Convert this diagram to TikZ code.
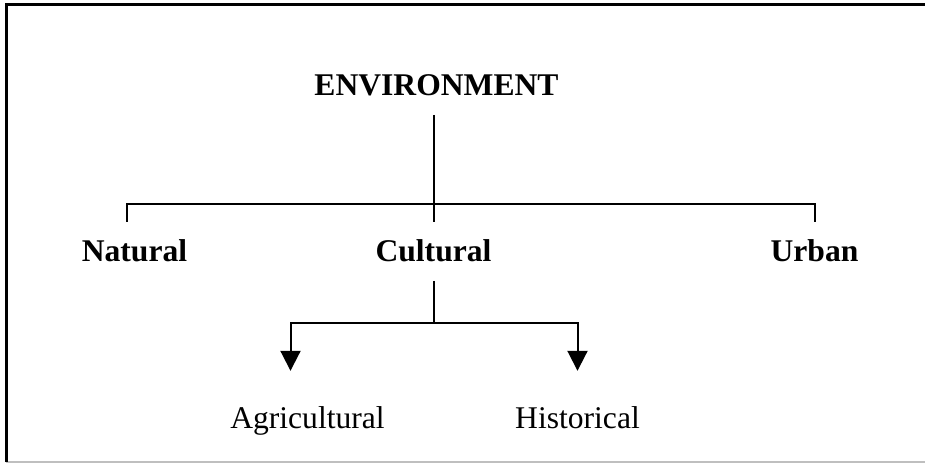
\documentclass[tikz,border=0pt]{standalone}
\usepackage{fontspec}
\setmainfont{Liberation Serif}
\usetikzlibrary{arrows.meta}

\tikzset{
  lbl/.style={anchor=base, inner xsep=0pt, inner ysep=9pt, text height=10.6pt, text depth=0pt, font=\fontsize{15.8}{18}\selectfont},
  head/.style={lbl, font=\fontsize{15.8}{18}\selectfont\bfseries},
  arr/.style={-{Triangle[width=10pt,length=10pt]}}
}

\begin{document}
\begin{tikzpicture}[x=0.5pt,y=-0.5pt, line width=1pt]
    \useasboundingbox (0,0) rectangle (925,464);
    \draw[black!25](6,462)--(925,462);
    \draw[line width=1.5pt](6,462)--(6,5)--(925,5);

    \node[head] (env) at (436.5,96) {ENVIRONMENT};
    \node[head] (nat) at (134.5,262) {Natural};
    \node[head] (cult) at (433.5,262) {Cultural};
    \node[head] (urb) at (814.5,262) {Urban};
    \node[lbl] (agr) at (307.5,428) {Agricultural};
    \node[lbl] (hist) at (577.5,428) {Historical};

    \coordinate (split) at (433.5,204);
    \coordinate (csplit) at (433.5,323);

    \draw(cult.north|-env.south)--(cult.north);
    \draw([xshift=-4pt]nat.north)|-(split)-|(urb.north);

    \draw(cult.south)--(csplit);
    \draw[arr](csplit)-|([xshift=-8.5pt,yshift=8.5pt]agr.north);
    \draw[arr](csplit)-|([yshift=8.5pt]hist.north);
\end{tikzpicture}
\end{document}
